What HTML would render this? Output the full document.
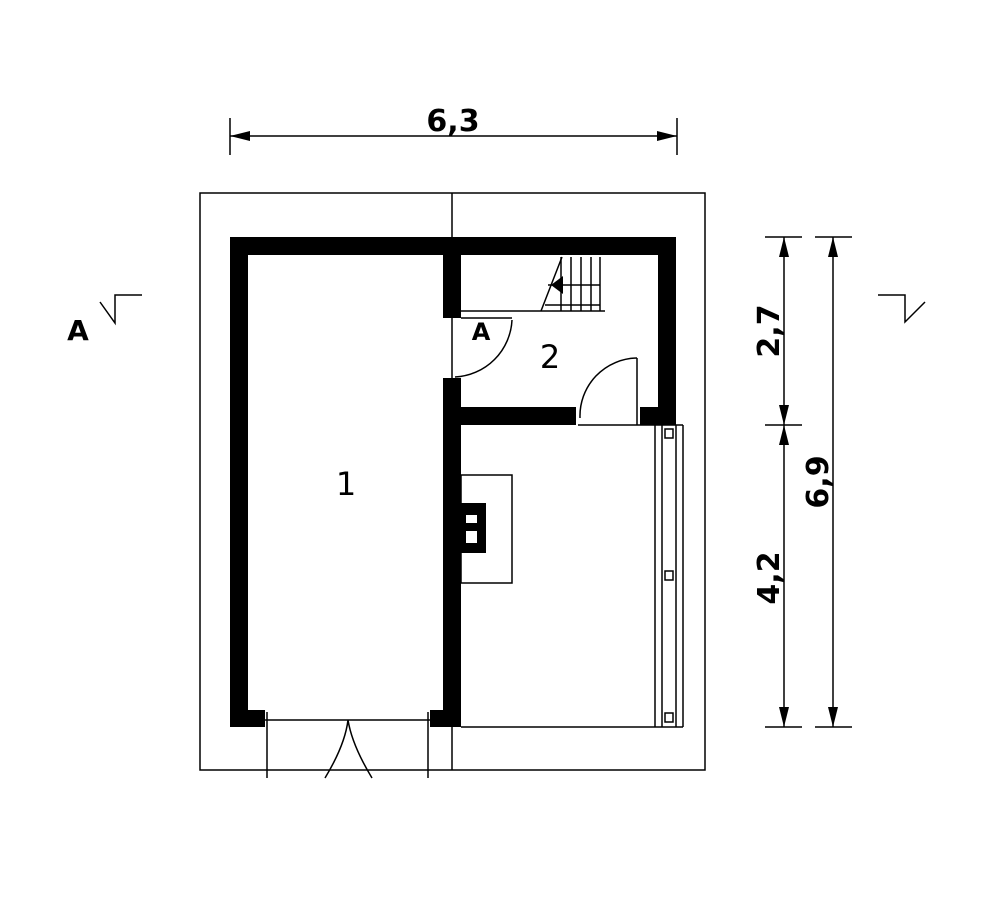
<!DOCTYPE html>
<html><head><style>body{margin:0;background:#fff}svg{display:block}</style></head><body>
<svg width="1000" height="922" viewBox="0 0 1000 922" xmlns="http://www.w3.org/2000/svg" font-family="'DejaVu Sans','Liberation Sans',sans-serif">
<g stroke="#000" stroke-width="1.5" fill="none">
<rect x="200" y="193" width="505" height="577"/>
<line x1="452" y1="193" x2="452" y2="237"/>
<line x1="452" y1="727" x2="452" y2="770"/>
<!-- room3 -->
<line x1="461" y1="727" x2="683" y2="727"/>
<line x1="655" y1="425" x2="655" y2="727"/>
<line x1="662" y1="425" x2="662" y2="727"/>
<line x1="676" y1="425" x2="676" y2="727"/>
<line x1="683" y1="425" x2="683" y2="727"/>
<line x1="578" y1="425" x2="683" y2="425"/>
<rect x="665" y="429" width="8" height="9"/>
<rect x="665" y="571" width="8" height="9"/>
<rect x="665" y="713" width="8" height="9"/>
<rect x="461" y="475" width="51" height="108"/>
<!-- gate -->
<line x1="265" y1="720" x2="430" y2="720"/>
<line x1="267" y1="712" x2="267" y2="778"/>
<line x1="428" y1="712" x2="428" y2="778"/>
<path d="M348 720 Q345 745 325 778 M348 720 Q352 745 372 778"/>
<!-- stairs -->
<line x1="461" y1="311" x2="605" y2="311"/>
<line x1="461" y1="318" x2="512" y2="318"/>
<path d="M541 311 L562 257"/>
<line x1="561" y1="257" x2="561" y2="311"/><line x1="571" y1="257" x2="571" y2="311"/><line x1="581" y1="257" x2="581" y2="311"/><line x1="591" y1="257" x2="591" y2="311"/><line x1="600" y1="257" x2="600" y2="311"/>
<line x1="548" y1="285" x2="600" y2="285"/><line x1="545" y1="305" x2="600" y2="305"/>
<!-- doors -->
<line x1="452" y1="318" x2="452" y2="378"/>
<path d="M512 320 A60 60 0 0 1 455 377"/>
<line x1="637" y1="358" x2="637" y2="425"/>
<path d="M637 358 A58 58 0 0 0 580 418"/>
<!-- section marks -->
<path d="M100 302 L115 323 L115 295 L142 295"/>
<path d="M878 295 L905 295 L905 322 L925 302"/>
<!-- dims -->
<line x1="230" y1="136" x2="677" y2="136"/>
<line x1="230" y1="118" x2="230" y2="155"/>
<line x1="677" y1="118" x2="677" y2="155"/>
<line x1="784" y1="237" x2="784" y2="727"/>
<line x1="833" y1="237" x2="833" y2="727"/>
<line x1="765" y1="237" x2="802" y2="237"/>
<line x1="765" y1="425" x2="802" y2="425"/>
<line x1="765" y1="727" x2="802" y2="727"/>
<line x1="815" y1="237" x2="852" y2="237"/>
<line x1="815" y1="727" x2="852" y2="727"/>
</g>
<g fill="#000">
<path d="M230 237 H676 V425 H640 V407 H658 V255 H461 V318 H443 V255 H248 V710 H265 V727 H230 Z"/>
<path d="M443 378 H461 V407 H576 V425 H461 V727 H430 V710 H443 Z"/>
<path d="M461 503 H486 V553 H461 Z"/>
<rect x="466" y="515" width="11" height="8" fill="#fff"/>
<rect x="466" y="531" width="11" height="12" fill="#fff"/>
<path d="M551 285 L563 276 L563 294 Z"/>
<path d="M230 136 l20 -5 v10 Z M677 136 l-20 -5 v10 Z"/>
<path d="M784 237 l-5 20 h10 Z M784 425 l-5 -20 h10 Z M784 425 l-5 20 h10 Z M784 727 l-5 -20 h10 Z M833 237 l-5 20 h10 Z M833 727 l-5 -20 h10 Z"/>
<text x="453" y="131" font-size="30" font-weight="bold" text-anchor="middle">6,3</text>
<text x="78" y="340" font-size="28" font-weight="bold" text-anchor="middle">A</text>
<text x="481" y="340" font-size="24" font-weight="bold" text-anchor="middle">A</text>
<text x="346" y="495" font-size="32" text-anchor="middle">1</text>
<text x="550" y="368" font-size="32" text-anchor="middle">2</text>
<text transform="translate(779,331) rotate(-90)" font-size="30" font-weight="bold" text-anchor="middle">2,7</text>
<text transform="translate(779,578) rotate(-90)" font-size="30" font-weight="bold" text-anchor="middle">4,2</text>
<text transform="translate(828,482) rotate(-90)" font-size="30" font-weight="bold" text-anchor="middle">6,9</text>
</g>
</svg>
</body></html>
